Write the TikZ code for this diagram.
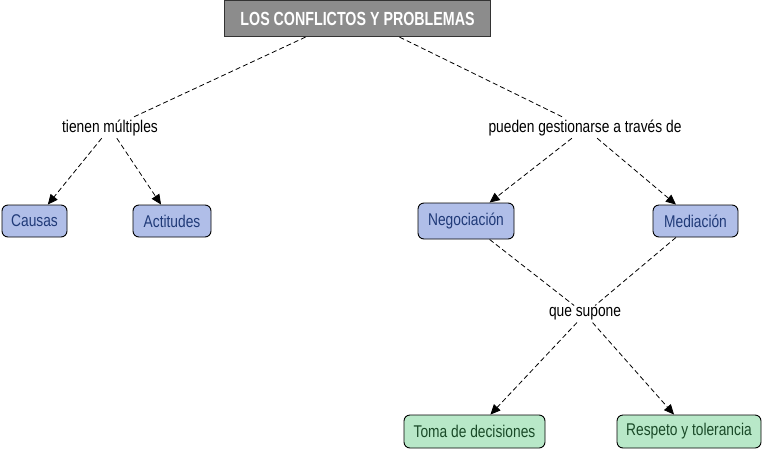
\documentclass[tikz,border=0pt]{standalone}
\usepackage{fontspec}
\setmainfont{Liberation Sans}[FakeStretch=0.81]
\newfontfamily\titlefont{Liberation Sans}[FakeStretch=0.75]
\usetikzlibrary{arrows.meta}
\definecolor{bluefill}{HTML}{B0BEE8}
\definecolor{bluetext}{HTML}{203A78}
\definecolor{greenfill}{HTML}{B8E8C8}
\definecolor{greentext}{HTML}{1A4A28}
\definecolor{titlefill}{HTML}{8C8C8C}
\begin{document}
\begin{tikzpicture}[x=1pt,y=-1pt,
  bluebox/.style={draw=black,line width=0.9pt,rounded corners=6pt,fill=bluefill,text=bluetext,font=\fontsize{17}{19}\selectfont,minimum height=32pt,inner xsep=5pt},
  greenbox/.style={draw=black,line width=0.9pt,rounded corners=6pt,fill=greenfill,text=greentext,font=\fontsize{17}{19}\selectfont,minimum height=33pt,inner xsep=5pt},
  lbl/.style={font=\fontsize{17}{19}\selectfont,text=black,inner sep=2pt},
  conn/.style={draw=black,dashed,line width=0.8pt,dash pattern=on 5pt off 3pt},
  arr/.style={conn,-{Triangle[length=10pt,width=9pt]}}]
\useasboundingbox (0,0) rectangle (765,453);
\node[draw=black!80,line width=1.2pt,fill=titlefill,text=white,font=\titlefont\fontsize{19}{21}\bfseries\selectfont,minimum width=266pt,minimum height=36pt] (title) at (357.5,18.5) {LOS CONFLICTOS Y PROBLEMAS};
\node[lbl] (tm) at (110,128) {tienen múltiples};
\node[lbl] (pg) at (585,128) {pueden gestionarse a través de};
\node[bluebox,minimum width=65pt] (causas) at (34.5,221) {Causas};
\node[bluebox,minimum width=78pt] (act) at (172,221) {Actitudes};
\node[bluebox,minimum width=96pt,minimum height=36pt] (neg) at (466,221) {Negociación};
\node[bluebox,minimum width=85pt] (med) at (695.5,221) {Mediación};
\node[lbl] (qs) at (585,314) {que supone};
\node[greenbox,minimum width=141pt] (toma) at (474.5,431.5) {Toma de decisiones};
\node[greenbox,minimum width=144pt] (resp) at (689,431.5) {Respeto y tolerancia};
\draw[conn] (title.south) ++(-52,0) coordinate (t1) -- (tm);
\draw[conn] (title.south) ++(42,0) coordinate (t2) -- (pg);
\draw[arr] (tm) -- (causas);
\draw[arr] (tm) -- (act);
\draw[arr] (pg) -- (neg);
\draw[arr] (pg) -- (med);
\draw[conn] (neg) -- (qs);
\draw[conn] (med) -- (qs);
\draw[arr] (qs) -- (toma);
\draw[arr] (qs) -- (resp);
\end{tikzpicture}
\end{document}
